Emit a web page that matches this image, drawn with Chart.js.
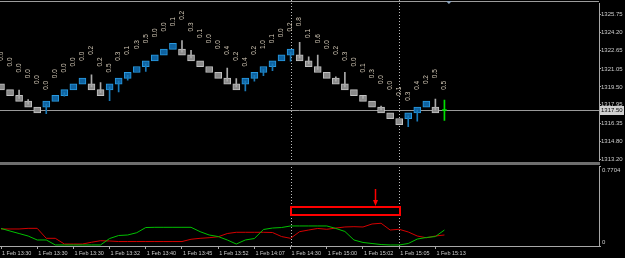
<!DOCTYPE html>
<html>
<head>
<meta charset="utf-8">
<script src="https://cdn.jsdelivr.net/npm/chart.js@4.4.1/dist/chart.umd.min.js"></script>
<style>
  html, body { margin: 0; padding: 0; background: #000; }
  #wrap { position: relative; width: 625px; height: 258px; overflow: hidden; background: #000; }
  canvas { position: absolute; left: 0; }
  #price { top: 0; }
  #osc { top: 164px; }
</style>
</head>
<body>
<div id="wrap">
  <canvas id="price" width="625" height="164"></canvas>
  <canvas id="osc" width="625" height="94"></canvas>
</div>
<script>
// renko bricks: middle price of each brick, 1 = up (blue), 0 = down (grey)
const brickMid = [1319.5, 1319.0, 1318.5, 1318.0, 1317.5, 1318.0, 1318.5, 1319.0, 1319.5, 1320.0,
  1319.5, 1319.0, 1319.5, 1320.0, 1320.5, 1321.0, 1321.5, 1322.0, 1322.5, 1323.0,
  1322.5, 1322.0, 1321.5, 1321.0, 1320.5, 1320.0, 1319.5, 1320.0, 1320.5, 1321.0,
  1321.5, 1322.0, 1322.5, 1322.0, 1321.5, 1321.0, 1320.5, 1320.0, 1319.5, 1319.0,
  1318.5, 1318.0, 1317.5, 1317.0, 1316.5, 1317.0, 1317.5, 1318.0, 1317.5];
const brickUp = [0,0,0,0,0,1,1,1,1,1, 0,0,1,1,1,1,1,1,1,1, 0,0,0,0,0,0,0,1,1,1,
  1,1,1,0,0,0,0,0,0,0, 0,0,0,0,0,1,1,1,0];
const brickHalf = 0.26;
// wick end (high for grey, low for blue), null = no wick
const wickEnd = [null, null, 1319.23, 1318.40, null, 1317.18, null, 1318.70, null, null,
  1320.55, 1319.88, 1318.30, 1319.06, 1320.07, null, 1320.83, null, null, null,
  1323.50, 1322.66, null, null, null, 1321.12, 1320.21, 1319.15, 1319.99, 1320.47,
  1320.91, null, 1321.73, 1323.36, 1322.09, 1322.24, null, 1320.36, 1320.75, null,
  1318.67, null, 1317.83, null, null, 1316.06, 1316.53, null, 1318.45];
// bar still forming
const lastBar = { i: 49, low: 1316.60, high: 1318.35, close: 1317.50 };

// small vertical texts over the bricks
const labelText = ['0.0','0.0','0.0','0.0','0.0','0.0','0.0','0.0','0.0','0.0',
  '0.2','0.2','0.5','0.3','0.1','0.3','0.5','0.0','0.0','0.1',
  '0.2','0.3','0.1','0.0','0.0','0.4','0.2','0.4','0.2','1.0',
  '0.1','0.0','0.2','0.8','0.1','0.6','0.0','0.2','0.3','0.0',
  '0.1','0.3','0.0','0.0','0.1','0.3','0.4','0.2','0.5','0.5'];
const labelPrice = [1322.15, 1321.65, 1321.14, 1320.64, 1320.13, 1319.63, 1320.64, 1321.14, 1321.65, 1322.15,
  1322.66, 1321.65, 1321.14, 1322.15, 1322.66, 1323.16, 1323.67, 1324.17, 1324.68, 1325.13,
  1325.69, 1324.68, 1324.12, 1323.67, 1323.16, 1322.66, 1322.15, 1321.65, 1322.66, 1323.16,
  1323.67, 1324.17, 1324.68, 1325.13, 1324.12, 1323.67, 1323.16, 1322.66, 1322.15, 1321.65,
  1321.14, 1320.64, 1320.13, 1319.63, 1319.12, 1318.70, 1319.63, 1320.13, 1320.64, 1319.63];

const priceTicks = [1313.20, 1314.80, 1316.35, 1317.95, 1319.50, 1321.05, 1322.65, 1324.20, 1325.75];
const priceMin = 1313.14, priceMax = 1326.70;

// lower window
const greenLine = [0.169, 0.144, 0.120, 0.096, 0.058, 0.058, 0.010, 0.010, 0.010, 0.010,
  0.010, 0.010, 0.072, 0.101, 0.106, 0.128, 0.178, 0.180, 0.180, 0.180,
  0.180, 0.180, 0.138, 0.106, 0.091, 0.058, 0.019, 0.058, 0.072, 0.159,
  0.173, 0.178, 0.193, 0.193, 0.193, 0.193, 0.193, 0.169, 0.140, 0.058,
  0.034, 0.024, 0.014, 0.010, 0.010, 0.024, 0.067, 0.082, 0.091, 0.154];
const redLine = [0.164, 0.164, 0.164, 0.170, 0.170, 0.074, 0.074, 0.019, 0.019, 0.019,
  0.036, 0.051, 0.048, 0.043, 0.043, 0.043, 0.043, 0.043, 0.043, 0.043,
  0.043, 0.065, 0.074, 0.080, 0.089, 0.120, 0.132, 0.132, 0.132, 0.132,
  0.130, 0.091, 0.074, 0.138, 0.154, 0.169, 0.161, 0.173, 0.183, 0.186,
  0.183, 0.212, 0.219, 0.154, 0.161, 0.135, 0.096, 0.079, 0.096, 0.106];
const oscMax = 0.7704;

const tickBars = [0, 4, 8, 12, 16, 20, 24, 28, 32, 36, 40, 44, 48];
const timeLabels = ['1 Feb 13:30', '1 Feb 13:30', '1 Feb 13:30', '1 Feb 13:32', '1 Feb 13:40', '1 Feb 13:45',
  '1 Feb 13:52', '1 Feb 14:07', '1 Feb 14:30', '1 Feb 15:00', '1 Feb 15:02', '1 Feb 15:05', '1 Feb 15:13'];

// marked zone (vertical dotted lines, red box, arrow)
const markBars = [32, 44];
const boxRange = [0.2985, 0.3756];
const arrowAt = { bar: 41.3, from: 0.549, to: 0.385 };
const shiftBar = 49.5;

const xMin = -0.11, xMax = 66.08;

Chart.defaults.font.family = '"Liberation Sans", Arial, sans-serif';
Chart.defaults.animation = false;

const blueFill = '#0e62a0', blueEdge = '#2a9ae0', blueWick = '#1a7ab8';
const greyFill = '#8a8a8a', greyEdge = '#c2c2c2', greyWick = '#aaaaaa';
const axisColor = '#a8a8a8', textColor = '#cccccc';

const bodies = brickMid.map((m, i) => ({ x: i, y: [m - brickHalf, m + brickHalf] }));
const wicks = brickMid.map((m, i) => ({ x: i, y: wickEnd[i] == null ? null : [Math.min(m, wickEnd[i]), Math.max(m, wickEnd[i])] }));

function dotted(ctx, x, top, bottom) {
  ctx.save();
  ctx.strokeStyle = '#bdbdbd';
  ctx.lineWidth = 1;
  ctx.setLineDash([1, 2]);
  ctx.beginPath();
  ctx.moveTo(Math.round(x) + 0.5, top);
  ctx.lineTo(Math.round(x) + 0.5, bottom);
  ctx.stroke();
  ctx.restore();
}

const priceDecor = {
  id: 'priceDecor',
  beforeDatasetsDraw(chart) {
    const { ctx, chartArea: a, scales: { x, y } } = chart;
    const py = Math.round(y.getPixelForValue(lastBar.close)) + 0.5;
    ctx.save();
    ctx.strokeStyle = '#9a9a9a';
    ctx.lineWidth = 1;
    ctx.beginPath();
    ctx.moveTo(a.left, py);
    ctx.lineTo(a.right, py);
    ctx.stroke();
    ctx.restore();
    markBars.forEach(b => dotted(ctx, x.getPixelForValue(b), 0, chart.height));
  },
  afterDatasetsDraw(chart) {
    const { ctx, chartArea: a, scales: { x, y } } = chart;
    ctx.save();
    ctx.fillStyle = '#d2c8b6';
    ctx.font = '6.5px "Liberation Sans", Arial, sans-serif';
    ctx.textAlign = 'center';
    ctx.textBaseline = 'middle';
    labelText.forEach((t, i) => {
      ctx.save();
      ctx.translate(x.getPixelForValue(i), y.getPixelForValue(labelPrice[i]));
      ctx.rotate(-Math.PI / 2);
      ctx.fillText(t, 0, 0);
      ctx.restore();
    });
    // frame top line and separator
    ctx.fillStyle = '#9c9c9c';
    ctx.fillRect(0, 1, a.right, 1);
    ctx.fillStyle = '#6e6e6e';
    ctx.fillRect(0, chart.height - 2, a.right + 1, 2);
    // chart shift marker
    const sx = x.getPixelForValue(shiftBar);
    ctx.fillStyle = '#8da4bb';
    ctx.beginPath();
    ctx.moveTo(sx - 3, 1);
    ctx.lineTo(sx + 3, 1);
    ctx.lineTo(sx, 4);
    ctx.closePath();
    ctx.fill();
    ctx.restore();
  },
  afterDraw(chart) {
    const { ctx, chartArea: a, scales: { y } } = chart;
    const py = y.getPixelForValue(lastBar.close);
    ctx.save();
    ctx.fillStyle = '#cfcfcf';
    ctx.fillRect(a.right + 1, Math.round(py) - 4, chart.width - a.right - 2, 9);
    ctx.fillStyle = '#000';
    ctx.font = '6px "Liberation Sans", Arial, sans-serif';
    ctx.textAlign = 'left';
    ctx.textBaseline = 'middle';
    ctx.fillText(lastBar.close.toFixed(2), a.right + 2, Math.round(py) + 0.5);
    ctx.restore();
  }
};

new Chart(document.getElementById('price'), {
  type: 'bar',
  data: {
    datasets: [
      {
        data: wicks,
        grouped: false,
        barThickness: 1,
        backgroundColor: brickUp.map(u => u ? blueWick : greyWick),
        borderWidth: 0
      },
      {
        data: bodies,
        grouped: false,
        barThickness: 7,
        backgroundColor: brickUp.map(u => u ? blueFill : greyFill),
        borderColor: brickUp.map(u => u ? blueEdge : greyEdge),
        borderWidth: 1,
        borderSkipped: false
      },
      {
        data: [{ x: lastBar.i, y: [lastBar.low, lastBar.high] }],
        grouped: false,
        barThickness: 1,
        backgroundColor: '#00e000',
        borderWidth: 0
      },
      {
        data: [{ x: lastBar.i, y: [lastBar.close - 0.04, lastBar.close + 0.04] }],
        grouped: false,
        barThickness: 4,
        backgroundColor: '#00e000',
        borderWidth: 0
      }
    ]
  },
  options: {
    responsive: false,
    devicePixelRatio: 1,
    layout: { padding: { top: 2, bottom: 1, left: 0, right: 0 } },
    plugins: { legend: { display: false }, tooltip: { enabled: false } },
    scales: {
      x: { type: 'linear', min: xMin, max: xMax, offset: false, display: false },
      y: {
        position: 'right',
        min: priceMin,
        max: priceMax,
        afterBuildTicks: s => { s.ticks = priceTicks.map(v => ({ value: v })); },
        afterFit: s => { s.width = 26; },
        ticks: {
          color: textColor,
          font: { size: 6 },
          padding: 0,
          callback: v => v.toFixed(2)
        },
        grid: { drawOnChartArea: false, drawTicks: true, tickLength: 2, color: axisColor },
        border: { display: true, color: axisColor }
      }
    }
  },
  plugins: [priceDecor]
});

const oscDecor = {
  id: 'oscDecor',
  beforeDatasetsDraw(chart) {
    const { ctx, chartArea: a, scales: { x } } = chart;
    markBars.forEach(b => dotted(ctx, x.getPixelForValue(b), 0, a.bottom));
  },
  afterDatasetsDraw(chart) {
    const { ctx, chartArea: a, scales: { x, y } } = chart;
    ctx.save();
    // red box
    const x0 = x.getPixelForValue(markBars[0]), x1 = x.getPixelForValue(markBars[1]);
    const y0 = y.getPixelForValue(boxRange[1]), y1 = y.getPixelForValue(boxRange[0]);
    ctx.strokeStyle = '#ff0000';
    ctx.lineWidth = 2;
    ctx.strokeRect(Math.round(x0), Math.round(y0), Math.round(x1 - x0), Math.round(y1 - y0));
    // arrow
    const ax = Math.round(x.getPixelForValue(arrowAt.bar)) + 0.5;
    const ay0 = y.getPixelForValue(arrowAt.from), ay1 = y.getPixelForValue(arrowAt.to);
    ctx.lineWidth = 1.5;
    ctx.beginPath();
    ctx.moveTo(ax, ay0);
    ctx.lineTo(ax, ay1 - 4);
    ctx.stroke();
    ctx.fillStyle = '#ff0000';
    ctx.beginPath();
    ctx.moveTo(ax - 2.5, ay1 - 6);
    ctx.lineTo(ax + 2.5, ay1 - 6);
    ctx.lineTo(ax, ay1);
    ctx.closePath();
    ctx.fill();
    // separator continuation
    ctx.fillStyle = '#6e6e6e';
    ctx.fillRect(0, 0, a.right + 1, 1);
    ctx.restore();
  },
  afterDraw(chart) {
    const { ctx, chartArea: a, scales: { y } } = chart;
    ctx.save();
    ctx.fillStyle = textColor;
    ctx.font = '6px "Liberation Sans", Arial, sans-serif';
    ctx.textAlign = 'left';
    ctx.textBaseline = 'middle';
    ctx.fillText(oscMax.toFixed(4), a.right + 3, y.getPixelForValue(oscMax) + 4);
    ctx.fillText('0', a.right + 3, y.getPixelForValue(0) - 4);
    ctx.restore();
  }
};

new Chart(document.getElementById('osc'), {
  type: 'line',
  data: {
    datasets: [
      {
        data: greenLine.map((v, i) => ({ x: i, y: v })),
        borderColor: '#00c000',
        borderWidth: 1,
        pointRadius: 0,
        tension: 0
      },
      {
        data: redLine.map((v, i) => ({ x: i, y: v })),
        borderColor: '#d40000',
        borderWidth: 1,
        pointRadius: 0,
        tension: 0
      }
    ]
  },
  options: {
    responsive: false,
    devicePixelRatio: 1,
    layout: { padding: { top: 2, bottom: 0, left: 0, right: 0 } },
    plugins: { legend: { display: false }, tooltip: { enabled: false } },
    scales: {
      x: {
        type: 'linear',
        min: xMin,
        max: xMax,
        offset: false,
        afterBuildTicks: s => { s.ticks = tickBars.map(v => ({ value: v })); },
        afterFit: s => { s.height = 12; },
        ticks: {
          color: textColor,
          font: { size: 5.5 },
          align: 'start',
          labelOffset: 1,
          padding: 1,
          maxRotation: 0,
          autoSkip: false,
          callback: v => timeLabels[tickBars.indexOf(v)]
        },
        grid: { drawOnChartArea: false, drawTicks: true, tickLength: 3, color: axisColor },
        border: { display: true, color: axisColor }
      },
      y: {
        position: 'right',
        min: 0,
        max: oscMax,
        afterBuildTicks: s => { s.ticks = [{ value: 0 }, { value: oscMax }]; },
        afterFit: s => { s.width = 26; },
        ticks: { display: false },
        grid: { drawOnChartArea: false, drawTicks: true, tickLength: 2, color: axisColor },
        border: { display: true, color: axisColor }
      }
    }
  },
  plugins: [oscDecor]
});
</script>
</body>
</html>
